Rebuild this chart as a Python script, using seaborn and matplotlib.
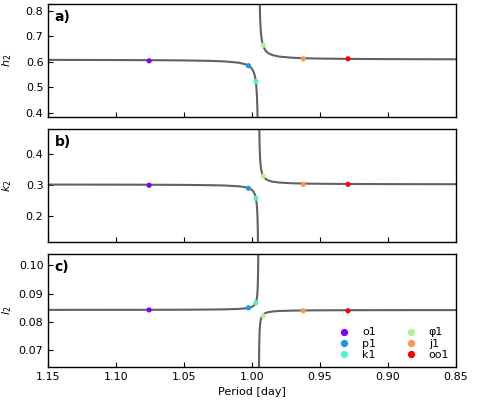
import numpy as np
import pandas as pd
import matplotlib
matplotlib.use("Agg")
import matplotlib.pyplot as plt
import seaborn as sns

# ---- resonance curves ----
period_left = [1.15, 1.10, 1.075, 1.05, 1.03, 1.02, 1.01, 1.005, 1.0025, 1.001, 1.000,
               0.999, 0.998, 0.9975, 0.997, 0.9965, 0.9962, 0.996, 0.9958, 0.9956,
               0.9955, 0.9954]
h2_left = [0.6077, 0.6071, 0.6066, 0.6056, 0.6037, 0.6016, 0.5968, 0.5906, 0.5843,
           0.5780, 0.5715, 0.5616, 0.5446, 0.5305, 0.5085, 0.4692, 0.4264, 0.3794,
           0.2997, 0.1366, -0.034, -0.397]
k2_left = [0.3013, 0.3011, 0.3008, 0.3003, 0.2993, 0.2983, 0.2959, 0.2928, 0.2897,
           0.2865, 0.2833, 0.2783, 0.2698, 0.2628, 0.2518, 0.2321, 0.2107, 0.1872,
           0.1474, 0.0658, -0.0194, -0.2008]
l2_left = [0.08422, 0.08424, 0.08425, 0.08428, 0.08434, 0.08441, 0.08455, 0.08474,
           0.08493, 0.08513, 0.08533, 0.08563, 0.08615, 0.08658, 0.08725, 0.08845,
           0.08976, 0.09120, 0.09363, 0.09862, 0.10382, 0.1149]

period_right = [0.85, 0.90, 0.93, 0.95, 0.96, 0.97, 0.98, 0.985, 0.988, 0.99, 0.9915,
                0.9925, 0.9932, 0.9937, 0.9941, 0.9944, 0.9946, 0.9948, 0.9949, 0.9950]
h2_right = [0.6100, 0.6107, 0.6116, 0.6128, 0.6139, 0.6159, 0.6205, 0.6263, 0.6335,
            0.6430, 0.6567, 0.6743, 0.6970, 0.7259, 0.7676, 0.8253, 0.8952, 1.030,
            1.161, 1.409]
k2_right = [0.3025, 0.3028, 0.3033, 0.3039, 0.3044, 0.3054, 0.3078, 0.3106, 0.3143,
            0.3190, 0.3259, 0.3346, 0.3460, 0.3604, 0.3813, 0.4102, 0.4451, 0.5128,
            0.578, 0.702]
l2_right = [0.08415, 0.08413, 0.08410, 0.08407, 0.08403, 0.08397, 0.08383, 0.08365,
            0.08343, 0.08314, 0.08272, 0.08219, 0.08149, 0.08061, 0.07933, 0.07757,
            0.07544, 0.07130, 0.06731, 0.05974]

# ---- tidal constituents ----
tides = ["o1", "p1", "k1", "φ1", "j1", "oo1"]
tide_periods = [1.07581, 1.00275, 0.99727, 0.99185, 0.96244, 0.92942]
h2_tides = [0.604, 0.585, 0.523, 0.665, 0.612, 0.612]
k2_tides = [0.299, 0.2895, 0.2575, 0.328, 0.302, 0.302]
l2_tides = [0.0842, 0.08495, 0.0867, 0.0821, 0.0839, 0.0839]

x_ticks = [1.15, 1.10, 1.05, 1.00, 0.95, 0.90, 0.85]

sns.set_style("ticks", {"xtick.direction": "in", "ytick.direction": "in"})
plt.rcParams["font.family"] = ["DejaVu Sans"]
plt.rcParams["text.color"] = "black"
plt.rcParams["axes.labelcolor"] = "black"

fig = plt.figure(figsize=(4.8, 4.0), dpi=100)
left, width, height = 0.1006, 0.8494, 0.2815
bottoms = [0.7075, 0.396, 0.083]
axes = [fig.add_axes([left, b, width, height]) for b in bottoms]

colors = [tuple(c) for c in plt.cm.rainbow(np.linspace(0, 1, len(tides)))]
palette = dict(zip(tides, colors))

panels = [
    ("a)", r"$h_2$", h2_left, h2_right, h2_tides, (0.384, 0.825), [0.4, 0.5, 0.6, 0.7, 0.8], "{:.1f}"),
    ("b)", r"$k_2$", k2_left, k2_right, k2_tides, (0.118, 0.48), [0.2, 0.3, 0.4], "{:.1f}"),
    ("c)", r"$l_2$", l2_left, l2_right, l2_tides, (0.0641, 0.1039), [0.07, 0.08, 0.09, 0.10], "{:.2f}"),
]

for i, (ax, (lab, ylab, yl, yr, yt, ylim, yticks, fmt)) in enumerate(zip(axes, panels)):
    dl = pd.DataFrame({"period": period_left, "val": yl})
    dr = pd.DataFrame({"period": period_right, "val": yr})
    for d in (dl, dr):
        sns.lineplot(data=d, x="period", y="val", sort=False, estimator=None,
                     color="0.38", lw=1.5, ax=ax, zorder=2)
    dt = pd.DataFrame({"period": tide_periods, "val": yt, "tide": tides})
    sns.scatterplot(data=dt, x="period", y="val", hue="tide", hue_order=tides,
                    palette=palette, s=14, edgecolor="none", ax=ax, zorder=3,
                    legend=(i == 2))
    ax.set_xlim(1.15, 0.85)
    ax.set_ylim(*ylim)
    ax.set_xticks(x_ticks)
    ax.set_yticks(yticks)
    ax.set_yticklabels([fmt.format(v) for v in yticks])
    ax.set_ylabel(ylab, fontsize=8, color="black")
    ax.tick_params(labelsize=8, length=3.5, width=0.8, color="black",
                   labelcolor="black")
    for s in ax.spines.values():
        s.set_linewidth(1.0)
        s.set_color("black")
    ax.text(0.015, 0.95, lab, transform=ax.transAxes, fontsize=10,
            fontweight="bold", va="top", ha="left", color="black")
    if i < 2:
        ax.set_xticklabels([])
        ax.set_xlabel("")
    else:
        ax.set_xticklabels([f"{v:.2f}" for v in x_ticks])
        ax.set_xlabel("Period [day]", fontsize=8, color="black")
        handles, labels = ax.get_legend_handles_labels()
        ax.legend(handles, labels, ncol=2, frameon=False, loc="lower right",
                  bbox_to_anchor=(1.0, 0.0), fontsize=8, markerscale=1.4,
                  labelspacing=0.12, columnspacing=2.15, handletextpad=0.6,
                  borderaxespad=0.2)
    ax.yaxis.set_label_coords(-0.085, 0.5)

fig.savefig("out.png", dpi=100)
